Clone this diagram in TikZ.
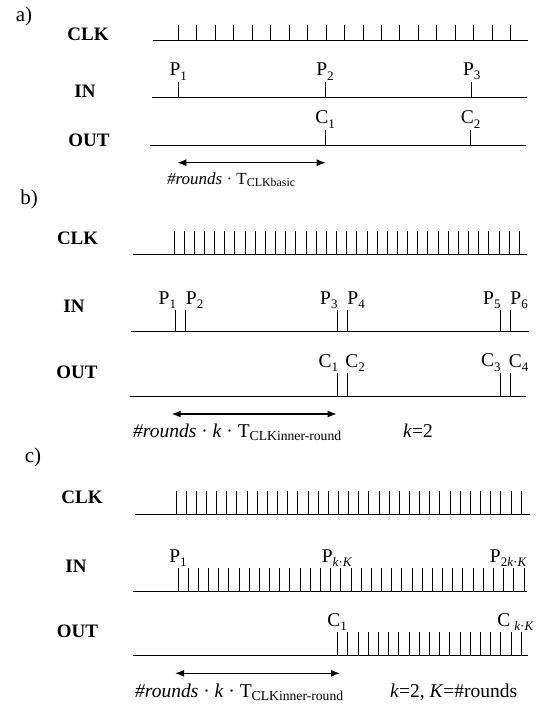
\documentclass[tikz,border=0pt]{standalone}
\usepackage{fontspec}
\setmainfont{Liberation Serif}
\usetikzlibrary{arrows.meta}
\newcommand\sbs[1]{\raisebox{-4.2pt}{\fontsize{13}{14}\selectfont #1}}
\begin{document}
\begin{tikzpicture}[x=1pt,y=-1pt,
  sig/.style={line width=0.9pt},
  tk/.style={line width=0.9pt},
  pan/.style={font=\fontsize{21}{24}\selectfont, inner sep=0pt},
  lbl/.style={font=\fontsize{19}{22}\selectfont\bfseries, inner sep=0pt},
  pl/.style={font=\fontsize{19.5}{22}\selectfont, inner sep=1pt, anchor=south},
  txa/.style={font=\fontsize{17}{20}\selectfont, inner sep=0pt, anchor=base west},
  txb/.style={font=\fontsize{19.5}{22}\selectfont, inner sep=0pt, anchor=base west},
  dur/.style={line width=1.3pt, {Latex[length=9pt,width=7pt]}-{Latex[length=9pt,width=7pt]}}]
\useasboundingbox (0,0) rectangle (536,704);

% ---------- a) ----------
\node[pan] (pa) at (24,16) {a)};
\node[lbl] (aclk) at (88,34) {CLK};
\node[lbl] (ain) at (85,91) {IN};
\node[lbl] (aout) at (89,140) {OUT};
\draw[sig] (153,40.5) -- (528,40.5);
\foreach \i in {0,...,18} \draw[tk] ({178.3+18.47*\i},40.5) -- ++(0,-16);
\draw[sig] (151.7,97.3) -- (527,97.3);
\foreach \x/\n in {178.3/1,325/2,471.7/3}
  \draw[tk] (\x,97.3) -- (\x,81.5) node[pl] (aP\n) {P\sbs{\n}};
\draw[sig] (150,145.7) -- (525.7,145.7);
\foreach \x/\n in {325/1,470.5/2}
  \draw[tk] (\x,145.7) -- (\x,129.5) node[pl] (aC\n) {C\sbs{\n}};
\coordinate (aA1) at (177.3,162.7);
\coordinate (aA2) at (325.7,162.7);
\draw[dur] (aA1) -- (aA2);
\node[txa] (atx) at (167,184) {\textit{\#rounds} · T\textsubscript{CLKbasic}};

% ---------- b) ----------
\node[pan] (pb) at (29,199) {b)};
\node[lbl] (bclk) at (77.6,238.3) {CLK};
\node[lbl] (bin) at (74,306.7) {IN};
\node[lbl] (bout) at (77,372.7) {OUT};
\draw[sig] (133,254) -- (527,254);
\foreach \i in {0,...,34} \draw[tk] ({174+10.156*\i},254) -- ++(0,-23.3);
\draw[sig] (131.4,331.3) -- (529,331.3);
\foreach \x/\n in {175.5/1,337/3,500/5}
  \draw[tk] (\x,331.3) -- (\x,310) node[pl,anchor=south east,xshift=2pt] (bP\n) {P\sbs{\n}};
\foreach \x/\n in {185.5/2,347/4,510/6}
  \draw[tk] (\x,331.3) -- (\x,310) node[pl,anchor=south west,xshift=-1pt] (bP\n) {P\sbs{\n}};
\draw[sig] (129.7,396) -- (525.6,396);
\foreach \x/\n in {337.5/1,500/3}
  \draw[tk] (\x,396) -- (\x,372.7) node[pl,anchor=south east,xshift=2pt] (bC\n) {C\sbs{\n}};
\foreach \x/\n in {347/2,510.5/4}
  \draw[tk] (\x,396) -- (\x,372.7) node[pl,anchor=south west,xshift=-3pt] (bC\n) {C\sbs{\n}};
\coordinate (bA1) at (171.7,414);
\coordinate (bA2) at (336.7,414);
\draw[dur] (bA1) -- (bA2);
\node[txb] (btx) at (133,437) {\textit{\#rounds} · \textit{k} · T\textsubscript{CLKinner-round}};
\node[txb] (bk) at (403,437) {\textit{k}=2};

% ---------- c) ----------
\node[pan] (pc) at (33,457) {c)};
\node[lbl] (cclk) at (82,497.3) {CLK};
\node[lbl] (cin) at (76,566.7) {IN};
\node[lbl] (cout) at (77.5,631.7) {OUT};
\draw[sig] (135,514) -- (530,514);
\foreach \i in {0,...,34} \draw[tk] ({176+10.15*\i},514) -- ++(0,-23.5);
\draw[sig] (133,591.3) -- (527,591.3);
\foreach \i in {0,...,34} \draw[tk] ({178+10.176*\i},591.3) -- ++(0,-23.8);
\draw[sig] (133,655.5) -- (528,655.5);
\foreach \i in {0,...,18} \draw[tk] ({337.7+10.2*\i},655.5) -- ++(0,-23.5);
\node[pl] (cP1) at (178,567.5) {P\sbs{1}};
\node[pl] (cPk) at (337,567.5) {P\sbs{\textit{k}·\textit{K}}};
\node[pl,anchor=south east] (cP2k) at (528,567.5) {P\sbs{2\textit{k}·\textit{K}}};
\node[pl] (cC1) at (337,632) {C\sbs{1}};
\node[pl,anchor=south east] (cCk) at (535,632) {C\hspace{4pt}\sbs{\textit{k}·\textit{K}}};
\coordinate (cA1) at (175,673.3);
\coordinate (cA2) at (340,673.3);
\draw[dur] (cA1) -- (cA2);
\node[txb] (ctx) at (135,697) {\textit{\#rounds} · \textit{k} · T\textsubscript{CLKinner-round}};
\node[txb] (ck) at (390,697) {\textit{k}=2, \textit{K}=\#rounds};
\end{tikzpicture}
\end{document}
